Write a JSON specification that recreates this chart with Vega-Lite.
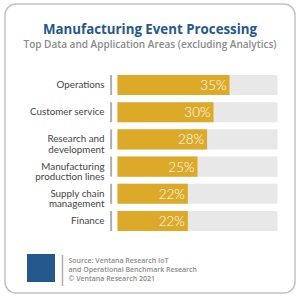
{
  "$schema": "https://vega.github.io/schema/vega-lite/v6.json",
  "width": 290,
  "height": 289,
  "autosize": {"type": "none"},
  "padding": {"left": 5, "top": 4, "right": 5, "bottom": 5},
  "background": "white",
  "title": {
    "text": "Manufacturing Event Processing",
    "subtitle": "Top Data and Application Areas (excluding Analytics)",
    "anchor": "middle",
    "frame": "group",
    "offset": -46,
    "font": "Open Sans",
    "fontSize": 13.3,
    "fontWeight": "bold",
    "color": "#26588e",
    "subtitleFont": "Open Sans",
    "subtitleFontSize": 10,
    "subtitleFontWeight": 600,
    "subtitleColor": "#8a8a8a",
    "subtitlePadding": 4
  },
  "data": {
    "values": [
      {"area": "Operations", "share": 0.35},
      {"area": "Customer service", "share": 0.30},
      {"area": "Research and development", "share": 0.28},
      {"area": "Manufacturing production lines", "share": 0.25},
      {"area": "Supply chain management", "share": 0.22},
      {"area": "Finance", "share": 0.22}
    ]
  },
  "encoding": {
    "y": {
      "field": "area",
      "type": "nominal",
      "sort": null,
      "scale": {"range": [67.4, 230.6], "paddingInner": 0.26, "paddingOuter": 0.13},
      "axis": {
        "title": null,
        "orient": "left",
        "offset": -99,
        "ticks": false,
        "tickSize": 0,
        "domain": false,
        "labelPadding": 0,
        "labelAlign": "right",
        "labelBaseline": "middle",
        "labelFont": "Lato",
        "labelFontSize": 9.8,
        "labelColor": "#454545",
        "labelLineHeight": 10.5,
        "labelLimit": 0,
        "labelExpr": "datum.label == 'Research and development' ? ['Research and', 'development'] : datum.label == 'Manufacturing production lines' ? ['Manufacturing', 'production lines'] : datum.label == 'Supply chain management' ? ['Supply chain', 'management'] : datum.label"
      }
    }
  },
  "layer": [
    {
      "mark": {"type": "bar", "color": "#e8e8e8"},
      "encoding": {
        "x": {
          "datum": 0.5,
          "type": "quantitative",
          "scale": {"domain": [0, 0.5], "range": [112.5, 272.5]},
          "axis": {
            "orient": "bottom",
            "labels": false,
            "ticks": false,
            "domain": false,
            "grid": false,
            "title": ["Source: Ventana Research IoT", "and Operational Benchmark Research", "© Ventana Research 2021"],
            "titleAnchor": "start",
            "titleAlign": "left",
            "titleBaseline": "alphabetic",
            "titleX": 63,
            "titleY": -31,
            "titleLineHeight": 9.4,
            "titleFont": "Open Sans",
            "titleFontSize": 7,
            "titleFontWeight": 600,
            "titleColor": "#8a8a8a"
          }
        }
      }
    },
    {
      "mark": {"type": "bar", "color": "#dcaa28"},
      "encoding": {
        "x": {"field": "share", "type": "quantitative"}
      }
    },
    {
      "mark": {"type": "tick", "orient": "vertical", "color": "#8c8c8c", "thickness": 2, "size": 20},
      "encoding": {
        "x": {"datum": -0.02, "type": "quantitative"}
      }
    },
    {
      "mark": {"type": "text", "align": "right", "baseline": "middle", "dx": -3, "dy": 1, "color": "white", "font": "Lato", "fontSize": 13.5, "fontWeight": 300},
      "encoding": {
        "x": {"field": "share", "type": "quantitative"},
        "text": {"field": "share", "type": "quantitative", "format": ".0%"},
        "detail": {"field": "area"}
      }
    },
    {
      "mark": {"type": "point", "filled": true, "opacity": 0, "shape": "square"},
      "encoding": {
        "color": {
          "datum": "Ventana Research",
          "type": "nominal",
          "scale": {"range": ["#24588d"]},
          "legend": {
            "orient": "none",
            "legendX": 22,
            "legendY": 250,
            "title": null,
            "padding": 0,
            "symbolType": "square",
            "symbolSize": 784,
            "symbolFillColor": "#24588d",
            "symbolStrokeWidth": 0,
            "symbolOpacity": 1,
            "labelExpr": "''",
            "labelOffset": 0
          }
        }
      }
    },
    {
      "mark": {"type": "point", "filled": false, "opacity": 0},
      "encoding": {
        "shape": {
          "datum": "divider",
          "type": "nominal",
          "scale": {"range": ["M0,-1L0,1"]},
          "legend": {
            "orient": "none",
            "legendX": 41,
            "legendY": 250,
            "title": null,
            "padding": 0,
            "symbolSize": 961,
            "symbolFillColor": "transparent",
            "symbolStrokeColor": "#b0b0b0",
            "symbolStrokeWidth": 1.5,
            "symbolOpacity": 1,
            "labelExpr": "''",
            "labelOffset": 0
          }
        }
      }
    }
  ],
  "config": {
    "view": {"stroke": "#c2c2c2", "strokeWidth": 1.5, "cornerRadius": 11, "fill": "white"}
  }
}
